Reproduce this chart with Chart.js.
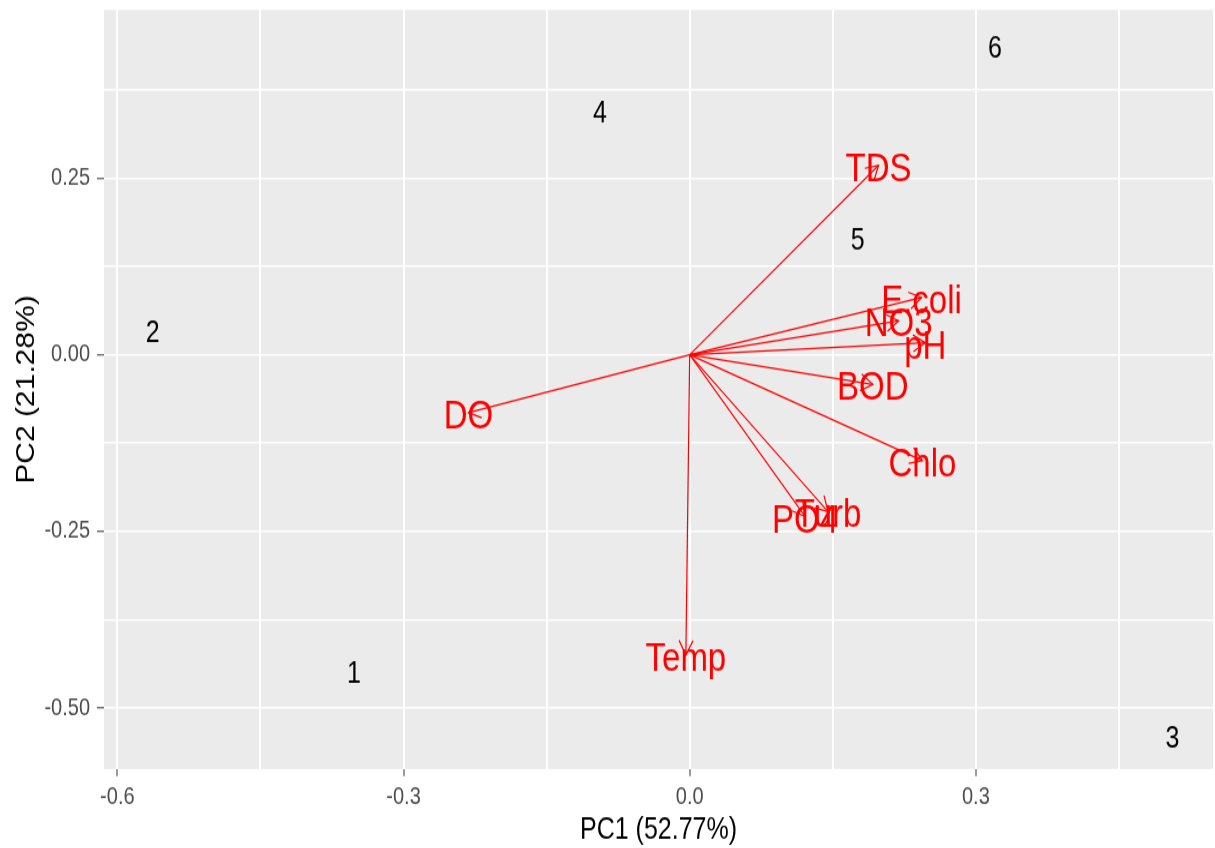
<!DOCTYPE html>
<html>
<head>
<meta charset="utf-8">
<title>PCA biplot</title>
<script src="https://cdn.jsdelivr.net/npm/chart.js@4.4.1/dist/chart.umd.min.js"></script>
<style>
  html, body { margin: 0; padding: 0; background: #fff; }
  #page { width: 1215px; height: 848px; position: relative; overflow: hidden; }
  /* the original picture is stretched vertically, so we draw at 707px tall and stretch */
  #wrap { position: absolute; left: 0; top: 0; width: 1215px; height: 707px; transform: scaleY(1.2); transform-origin: 0 0; }
</style>
</head>
<body>
<div id="page"><div id="wrap"><canvas id="biplot" width="1215" height="707"></canvas></div></div>
<script>
// sites (scores)
var siteLabels = ['1', '2', '3', '4', '5', '6']
var sitePC1 = [-0.352, -0.563, 0.506, -0.094, 0.176, 0.320]
var sitePC2 = [-0.452, 0.030, -0.545, 0.340, 0.161, 0.432]

// variables (loading arrow tips)
var varLabels = ['TDS', 'E.coli', 'NO3', 'pH', 'BOD', 'Chlo', 'Turb', 'PO4', 'Temp', 'DO']
var varPC1 = [0.198, 0.243, 0.219, 0.247, 0.192, 0.244, 0.145, 0.121, -0.004, -0.232]
var varPC2 = [0.268, 0.081, 0.048, 0.017, -0.042, -0.150, -0.222, -0.229, -0.425, -0.082]

// axes
var xTicks = [-0.6, -0.3, 0, 0.3]
var xTickLabels = ['-0.6', '-0.3', '0.0', '0.3']
var xMinor = [-0.45, -0.15, 0.15, 0.45]
var yTicks = [-0.5, -0.25, 0, 0.25]
var yTickLabels = ['-0.50', '-0.25', '0.00', '0.25']
var yMinor = [-0.375, -0.125, 0.125, 0.375]

Chart.defaults.font.family = '"Liberation Sans", Arial, sans-serif'

/*------------------------------*/
/*          PLUGINS             */
/*------------------------------*/
var panelBg = {
  id: 'panelBg',
  beforeDraw: function (chart) {
    var a = chart.chartArea, c = chart.ctx
    c.save()
    c.fillStyle = '#EBEBEB'
    c.fillRect(a.left, a.top, a.right - a.left, a.bottom - a.top)
    c.restore()
  }
}

var biplotMarks = {
  id: 'biplotMarks',
  afterDatasetsDraw: function (chart) {
    var c = chart.ctx
    var xs = chart.scales.x, ys = chart.scales.y
    var x0 = xs.getPixelForValue(0), y0 = ys.getPixelForValue(0)
    var headLen = 14, headAng = Math.PI / 6

    c.save()
    // site numbers
    var sites = chart.getDatasetMeta(0).data
    c.fillStyle = '#000'
    c.font = '25px "Liberation Sans", Arial, sans-serif'
    c.textAlign = 'center'
    c.textBaseline = 'middle'
    sites.forEach(function (pt, i) {
      c.fillText(siteLabels[i], pt.x, pt.y)
    })

    // arrow heads
    c.strokeStyle = '#FF0000'
    c.lineWidth = 1.2
    varLabels.forEach(function (name, i) {
      var px = xs.getPixelForValue(varPC1[i]), py = ys.getPixelForValue(varPC2[i])
      var ang = Math.atan2(py - y0, px - x0)
      c.beginPath()
      c.moveTo(px - headLen * Math.cos(ang - headAng), py - headLen * Math.sin(ang - headAng))
      c.lineTo(px, py)
      c.lineTo(px - headLen * Math.cos(ang + headAng), py - headLen * Math.sin(ang + headAng))
      c.stroke()
    })

    // variable names
    c.fillStyle = '#FF0000'
    c.font = '33px "Liberation Sans", Arial, sans-serif'
    varLabels.forEach(function (name, i) {
      var px = xs.getPixelForValue(varPC1[i]), py = ys.getPixelForValue(varPC2[i])
      c.fillText(name, px, py + 4)
    })
    c.restore()
  }
}

/*------------------------------*/
/*          DATA                */
/*------------------------------*/
var datasets = [{
  label: 'sites',
  data: sitePC1.map(function (x, i) { return { x: x, y: sitePC2[i] } }),
  pointRadius: 0,
  pointHoverRadius: 0
}]
varLabels.forEach(function (name, i) {
  datasets.push({
    label: name,
    data: [{ x: 0, y: 0 }, { x: varPC1[i], y: varPC2[i] }],
    showLine: true,
    borderColor: '#FF0000',
    borderWidth: 1.2,
    pointRadius: 0,
    pointHoverRadius: 0,
    fill: false
  })
})

function isIn(list, v) {
  return list.some(function (t) { return Math.abs(t - v) < 1e-9 })
}

function noEdgePadding(scale) {
  scale.paddingTop = 0
  scale.paddingBottom = 0
  scale.paddingLeft = 0
  scale.paddingRight = 0
}

var config = {
  type: 'scatter',
  data: { datasets: datasets },
  options: {
    responsive: false,
    animation: false,
    layout: { padding: { top: 8.3, right: 2, bottom: 0, left: 0 } },
    plugins: {
      legend: { display: false },
      tooltip: { enabled: false }
    },
    scales: {
      x: {
        type: 'linear',
        bounds: 'data',
        min: -0.614,
        max: 0.5486,
        afterBuildTicks: function (scale) {
          scale.ticks = xTicks.concat(xMinor).sort(function (a, b) { return a - b })
            .map(function (v) { return { value: v } })
        },
        afterFit: function (scale) { scale.height = 66.2; noEdgePadding(scale) },
        border: { display: false },
        grid: {
          color: '#FFFFFF',
          lineWidth: 2,
          tickLength: 6,
          tickWidth: 1,
          tickColor: function (ctx) { return isIn(xTicks, ctx.tick.value) ? '#333333' : 'rgba(0,0,0,0)' }
        },
        ticks: {
          autoSkip: false,
          maxRotation: 0,
          padding: 6,
          color: '#4D4D4D',
          font: { size: 20 },
          callback: function (v) {
            for (var i = 0; i < xTicks.length; i++) if (Math.abs(xTicks[i] - v) < 1e-9) return xTickLabels[i]
            return ''
          }
        },
        title: {
          display: true,
          text: 'PC1 (52.77%)',
          color: '#000',
          font: { size: 25 },
          padding: { top: 0, bottom: 0 }
        }
      },
      y: {
        type: 'linear',
        bounds: 'data',
        min: -0.5863,
        max: 0.488,
        afterBuildTicks: function (scale) {
          scale.ticks = yTicks.concat(yMinor).sort(function (a, b) { return a - b })
            .map(function (v) { return { value: v } })
        },
        afterFit: function (scale) { scale.width = 104; noEdgePadding(scale) },
        border: { display: false },
        grid: {
          color: '#FFFFFF',
          lineWidth: 1.6,
          tickLength: 7,
          tickWidth: 1,
          tickColor: function (ctx) { return isIn(yTicks, ctx.tick.value) ? '#333333' : 'rgba(0,0,0,0)' }
        },
        ticks: {
          autoSkip: false,
          padding: 7,
          color: '#4D4D4D',
          font: { size: 20 },
          callback: function (v) {
            for (var i = 0; i < yTicks.length; i++) if (Math.abs(yTicks[i] - v) < 1e-9) return yTickLabels[i]
            return ''
          }
        },
        title: {
          display: true,
          text: 'PC2 (21.28%)',
          color: '#000',
          font: { size: 25 },
          padding: { top: 12, bottom: 0 }
        }
      }
    }
  },
  plugins: [panelBg, biplotMarks]
}

var biplot = new Chart(document.getElementById('biplot').getContext('2d'), config)
</script>
</body>
</html>
